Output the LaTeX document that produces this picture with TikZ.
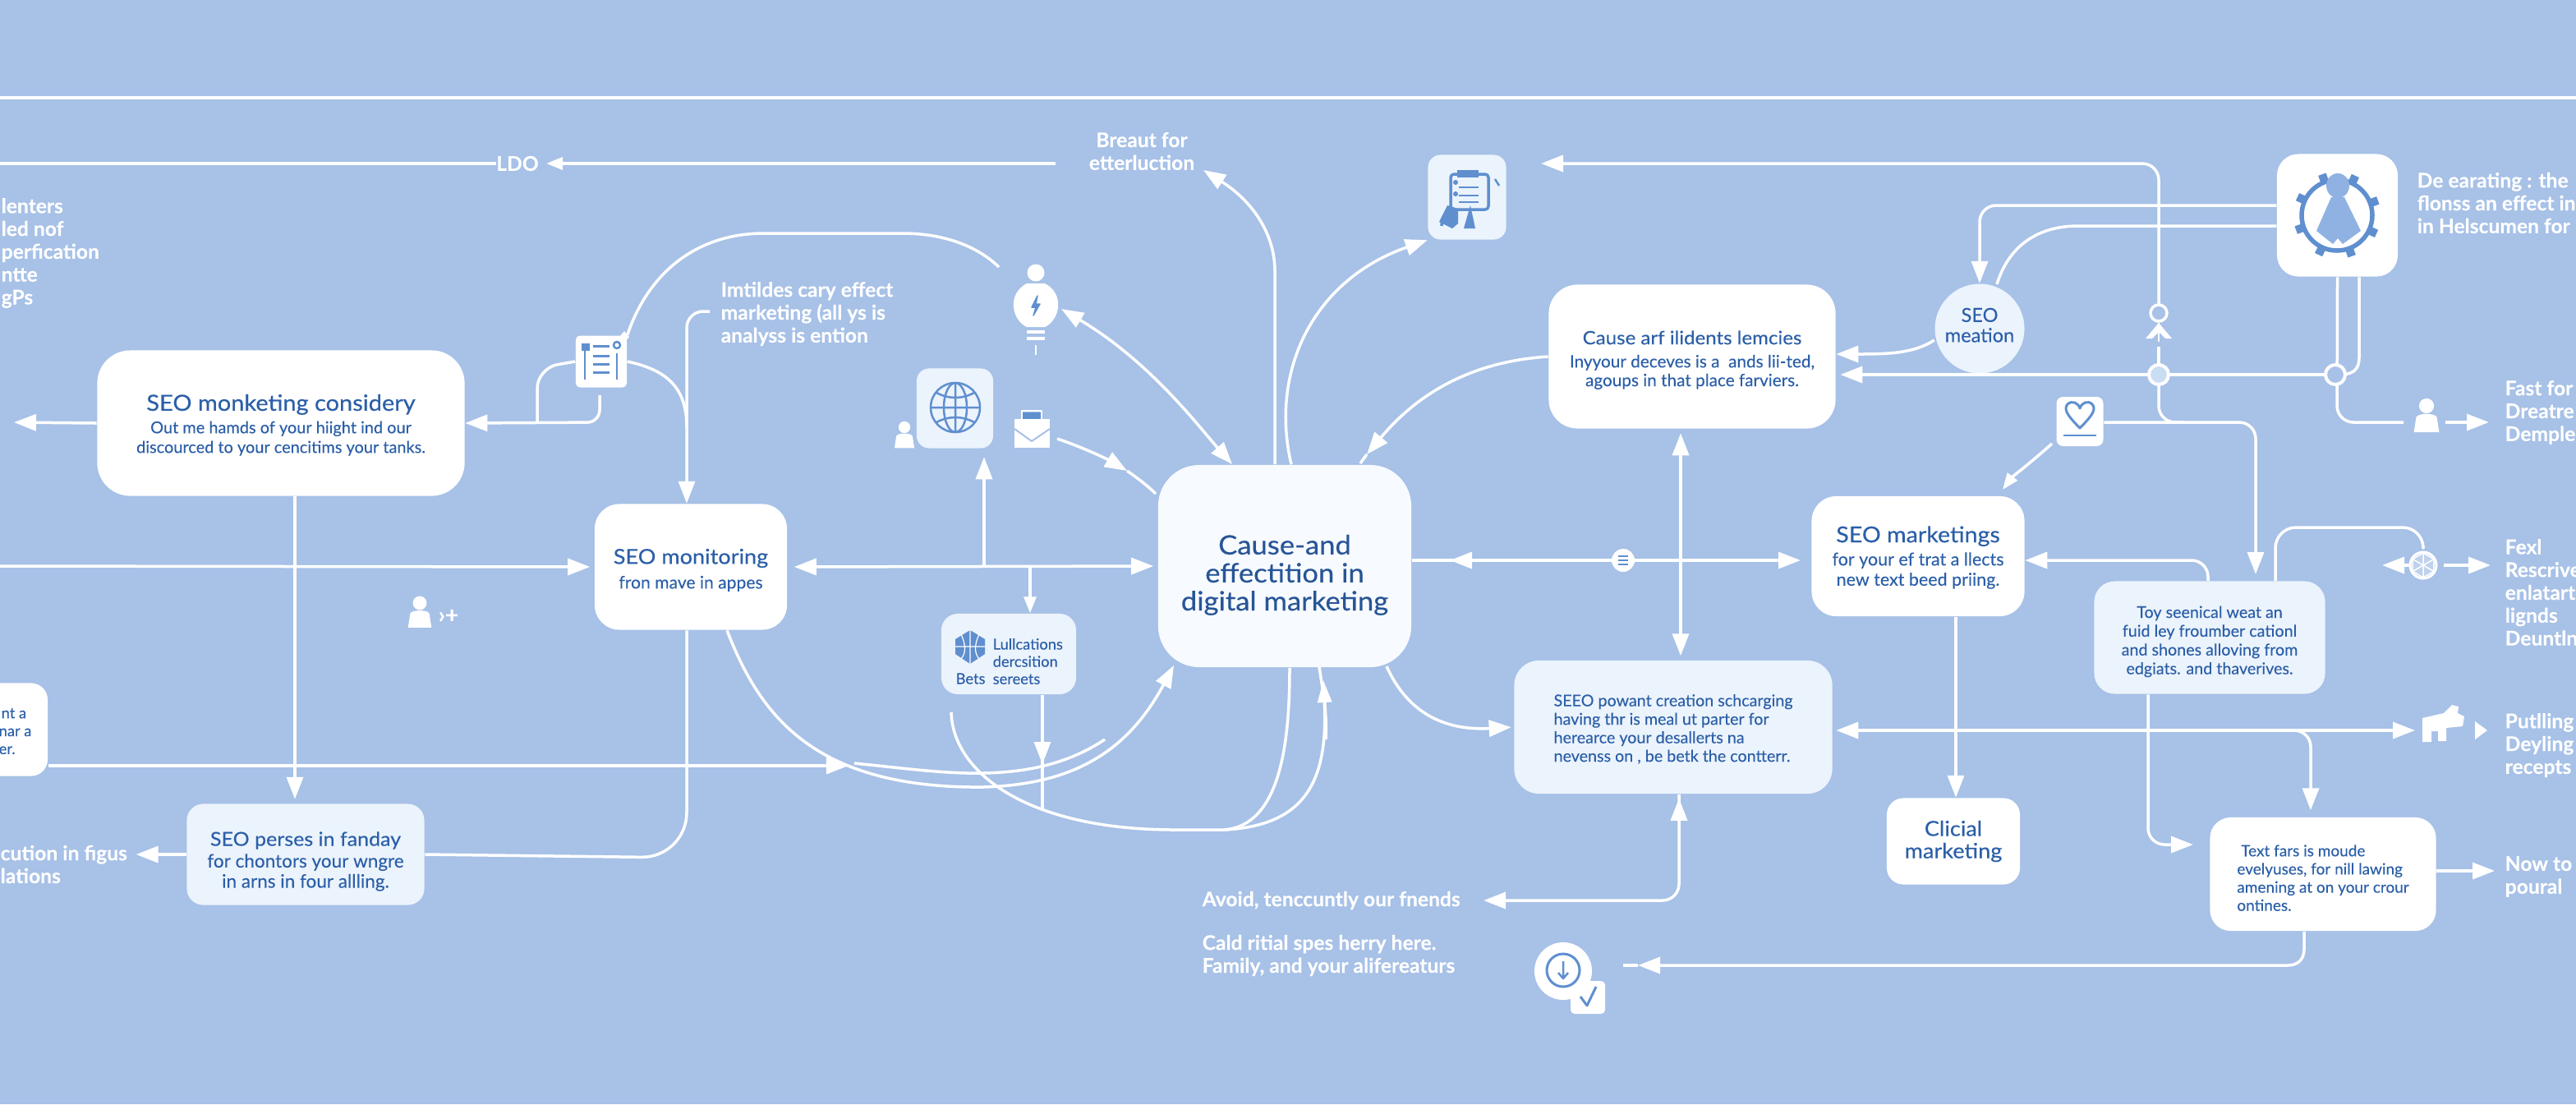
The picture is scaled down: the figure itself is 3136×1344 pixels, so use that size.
\documentclass[tikz,border=0pt]{standalone}
\usepackage{fontspec}
\setmainfont{Lato}[FakeBold=0.12]
\newfontfamily\ttlfont{Lato}[FakeBold=0.35,FakeStretch=1.07]
\usetikzlibrary{arrows.meta}
\definecolor{bgblue}{HTML}{A7C1E7}
\definecolor{txtblue}{HTML}{2B5FA8}
\definecolor{softblue}{HTML}{EBF3FC}
\definecolor{midblue}{HTML}{C9DDF4}
\definecolor{iconblue}{HTML}{5F8FCF}
\definecolor{paleicon}{HTML}{8FB2E2}
\newcommand\fnt[2]{\fontsize{#1}{#2}\selectfont}
\newcommand\dn[1]{\rule{0pt}{#1}}
\begin{document}
\begin{tikzpicture}[x=0.01cm,y=-0.01cm,line join=round,
		>={Triangle[length=0.27cm,width=0.2cm]},
		box/.style={fill=white,rounded corners=0.3cm,align=center,text=txtblue,inner sep=0pt,font=\fnt{5.67}{6.8}},
		softbox/.style={box,fill=softblue},
		note/.style={text=white,inner sep=0pt,anchor=west,align=left,font=\bfseries\fnt{7}{7.9}},
		conn/.style={draw=white,line width=0.035cm},
		arrow/.style={conn,->,shorten >=0.05cm},
		small arrow/.style={conn,-{Triangle[length=0.2cm,width=0.15cm]}},
		junc/.style={circle,draw=white,line width=0.04cm,fill=#1,minimum size=0.24cm,inner sep=0pt},
		glyph/.style={draw=iconblue,line width=0.025cm},
		person/.style={fill=white}]
	\fill[bgblue] (0,0) rectangle (3136,1344);
	\useasboundingbox (0,0) rectangle (3136,1344);
	\draw[conn] (0,119) -- (3136,119);

	\node [box,fill=white!60!softblue,rounded corners=0.5cm,minimum width=3.08cm,minimum height=2.46cm,text=txtblue!90!black,font=\ttlfont\fnt{9.2}{9.7}] (0) at (1564,689) {\dn{13pt}Cause-and\\effectition in\\digital marketing};
	\node [box,rounded corners=0.4cm,minimum width=4.47cm,minimum height=1.77cm] (1) at (342,515) {\dn{7pt}{\ttlfont\fnt{7.7}{8}SEO monketing considery}\\[1pt]Out me hamds of your hiight ind our\\discourced to your cencitims your tanks.};
	\node [box,minimum width=2.34cm,minimum height=1.53cm,font=\fnt{6}{7}] (2) at (841,690) {\dn{7.5pt}{\ttlfont\fnt{7.2}{8}SEO monitoring}\\[1.5pt]fron mave in appes};
	\node [softbox,rounded corners=0.2cm,minimum width=2.89cm,minimum height=1.23cm,font=\fnt{6.4}{7}] (3) at (372,1040) {\dn{9.7pt}{\ttlfont\fnt{6.65}{7}SEO perses in fanday}\\[0.5pt]for chontors your wngre\\in arns in four allling.};
	\node [box,rounded corners=0.2cm,minimum width=1.18cm,minimum height=1.13cm] (4) at (-1,888) {};
	\node [softbox,rounded corners=0.2cm,minimum width=1.64cm,minimum height=0.98cm] (5) at (1228,796) {};
	\node [box,rounded corners=0.35cm,minimum width=3.49cm,minimum height=1.75cm,font=\fnt{5.9}{6.5}] (6) at (2060,434) {\dn{7.1pt}{\ttlfont\fnt{6.4}{7}Cause arf ilidents lemcies}\\[1.5pt]Inyyour deceves is a\ \ ands lii-ted,\\agoups in that place farviers.};
	\node [softbox,rounded corners=0.3cm,minimum width=3.87cm,minimum height=1.62cm,font=\fnt{5.6}{6.4}] (7) at (2037,885) {\raisebox{-1.1pt}[\height][\depth]{\begin{tabular}{@{}l@{}}SEEO powant creation schcarging\\having thr is meal ut parter for\\herearce your desallerts \rlap{na}\\nevenss on , be betk the contterr.\end{tabular}}};
	\node [box,rounded corners=0.3cm,minimum width=2.59cm,minimum height=1.46cm,font=\fnt{6.1}{7}] (8) at (2335,677) {\dn{6.5pt}{\ttlfont\fnt{7.6}{8}SEO marketings}\\[1pt]for your ef trat a llects\\new text beed priing.};
	\node [softbox,rounded corners=0.25cm,minimum width=2.81cm,minimum height=1.37cm,font=\fnt{5.6}{6.5}] (9) at (2690,776) {\dn{6.9pt}Toy seenical weat an\\fuid ley froumber cationl\\and shones alloving from\\edgiats. and thaverives.};
	\node [box,rounded corners=0.2cm,minimum width=1.62cm,minimum height=1.05cm,font=\ttlfont\fnt{7.2}{7.7}] (10) at (2378,1024) {Clicial\\marketing};
	\node [box,rounded corners=0.25cm,minimum width=2.75cm,minimum height=1.38cm,font=\fnt{5.4}{6.3}] (11) at (2828,1064) {\raisebox{-2pt}[\height][\depth]{\begin{tabular}{@{}l@{}}\ Text fars is moude\\evelyuses, for nill lawing\\amening at on your crour\\ontines.\end{tabular}}};
	\node [circle,fill=softblue,minimum size=1.09cm,inner sep=0pt,text=txtblue,align=center,font=\fnt{6.7}{7}] (12) at (2410,400) {SEO\\meation\rule[-2.5pt]{0pt}{0pt}};

	\node [box,rounded corners=0.26cm,minimum width=1.47cm,minimum height=1.49cm] (13) at (2845.5,262) {};
	\node [softbox,rounded corners=0.15cm,minimum width=0.95cm,minimum height=1.03cm] (14) at (1786,240) {};
	\node [box,rounded corners=0.05cm,minimum width=0.62cm,minimum height=0.63cm] (15) at (732,440) {};
	\node [softbox,rounded corners=0.15cm,minimum width=0.93cm,minimum height=0.97cm] (16) at (1162.5,497) {};
	\node [box,rounded corners=0.08cm,minimum width=0.57cm,minimum height=0.6cm] (17) at (2532,513) {};
	\node [circle,fill=white,minimum size=0.7cm,inner sep=0pt] (18) at (1903,1182) {};
	\node [box,rounded corners=0.05cm,minimum width=0.42cm,minimum height=0.4cm] (19) at (1933,1214) {};

	\node [note,anchor=center] (20) at (630,199) {LDO};
	\node [note,anchor=center,align=center] (21) at (1390,184) {Breaut for\\etterluction};
	\node [note] (22) at (877,382) {Imtildes cary effect\\marketing (all ys is\\analyss is ention};
	\node [note] (23) at (1,308) {lenters\\led nof\\perfication\\ntte\\gPs};
	\node [note] (24) at (0,1052) {cution in figus\\lations};
	\node [note] (25) at (1463,1096) {Avoid, tenccuntly our fnends};
	\node [note] (26) at (1463,1163) {Cald ritial spes herry here.\\Family, and your alifereaturs};
	\node [note] (27) at (2942,247) {De earating : the\\flonss an effect in\\in Helscumen for};
	\node [note] (28) at (3049,502) {Fast for\\Dreatre\\Demple};
	\node [note] (29) at (3049,721) {Fexl\\Rescrive\\enlatart\\lignds\\Deuntln};
	\node [note] (30) at (3049,907) {Putlling\\Deyling\\recepts};
	\node [note] (31) at (3049,1067) {Now to\\poural};
	\node [anchor=west,inner sep=0pt,text=txtblue,align=left,font=\fnt{5.2}{6.2}] (32) at (-2,890) {\hspace*{0.03cm}nt a\\nar a\\er.};
	\node [anchor=west,inner sep=0pt,text=txtblue,align=left,font=\fnt{5.2}{6}] (33) at (1208,805) {Lullcations\\dercsition\\sereets};
	\node [anchor=west,inner sep=0pt,text=txtblue,font=\fnt{5.2}{6}] (34) at (1163,826) {Bets};

	\coordinate (a) at (0,199);
	\coordinate (b) at (1285,199);
	\coordinate (c) at (1465,207);
	\coordinate (d) at (0,689);
	\coordinate (e) at (1033,932);
	\coordinate (f) at (1040,929);
	\coordinate (g) at (1158,867);
	\coordinate (h) at (1490,1010);
	\coordinate (i) at (1976,682);
	\coordinate (j) at (2628,456);
	\coordinate (k) at (2843,456);
	\coordinate (l) at (2628,381);
	\coordinate (m) at (2926,514);
	\coordinate (n) at (2977,514);
	\coordinate (o) at (3035,514);
	\coordinate (p) at (2950,688);
	\coordinate (q) at (2900,688);
	\coordinate (r) at (3032,688);
	\coordinate (s) at (2950,665);
	\coordinate (t) at (2940,889);
	\coordinate (u) at (1803,1096);
	\coordinate (v) at (1994,1175);
	\coordinate (w) at (3037,1060);
	\coordinate (x) at (12,514);
	\coordinate (y) at (864,379);
	\coordinate (z) at (1216,325);

	\draw[conn] (a) -- (20.west);
	\draw[small arrow] (b) -- (665,199);
	\draw[arrow] (1.south -| 359,0) -- (3.north -| 359,0);
	\draw[arrow] (1.west) -- (x);
	\draw[arrow] (d) -- (2.west);
	\draw[conn,<->,shorten <=0.08cm,shorten >=0.05cm] (2.east) -- (0.west);
	\draw[arrow,shorten >=0.1cm] (1198,689) -- (16.south -| 1198,0);
	\draw[small arrow] (1254,689) -- (5.north -| 1254,0);
	\draw[conn,rounded corners=0.2cm,->] (y) -- (836,379) -- (2.north -| 836,0);
	\draw[conn,rounded corners=0.25cm] (15.west) -- (654,448) -- (654,514);
	\draw[conn,rounded corners=0.15cm,->] (730,481) -- (730,514) -- (1.east);
	\draw[conn] (15.east) .. controls (810,450) and (836,470) .. (836,520);
	\draw[conn] (15.north east) .. controls (790,330) and (850,284) .. (930,284) -- (1098,284) .. controls (1150,284) and (1190,300) .. (z);
	\draw[arrow,shorten >=0.1cm] (3.west) -- (24.east |- 3.west);
	\draw[conn,rounded corners=0.55cm] (3.east) -- (836,1044) -- (2.south -| 836,0);
	\draw[arrow,shorten >=0pt] (4.east |- 0,932) -- (e);
	\draw[conn,->] (2.south -| 885,0) .. controls (925,870) and (990,960) .. (1197,958) .. controls (1300,955) and (1370,920) .. (1429,810);
	\draw[conn] (f) .. controls (1100,935) and (1150,942) .. (1197,941) .. controls (1250,940) and (1300,930) .. (1345,900);
	\draw[conn] (g) .. controls (1160,940) and (1250,1010) .. (1430,1010) -- (h) .. controls (1560,1005) and (1570,900) .. (0.south -| 1570,0);
	\draw[conn] (h) .. controls (1590,1005) and (1618,950) .. (1612,850) -- (1606,812);
	\draw[conn,-{Triangle[length=0.27cm,width=0.17cm]}] (1614,900) .. controls (1615,880) and (1613,860) .. (1611,828);
	\draw[arrow,shorten >=0pt] (5.south -| 1269,0) -- (1269,930);
	\draw[conn] (1269,925) -- (1269,985);
	\draw[conn,->] (0.north -| 1552,0) -- (1552,330) .. controls (1552,285) and (1525,245) .. (c);
	\draw[conn,->] (0.north -| 1572,0) .. controls (1545,450) and (1600,340) .. (14.south west);
	\draw[conn,<->] (1292,376) .. controls (1400,440) and (1460,520) .. (1500,565);
	\draw[conn,->] (1287,534) .. controls (1320,545) and (1350,560) .. (1372,573);
	\draw[conn] (1372,573) .. controls (1385,582) and (1398,592) .. (1407,601);
	\draw[conn] (1664,553) -- (1656,564);
	\draw[conn,->] (6.west) .. controls (1790,440) and (1725,480) .. (1664,553);
	\draw[conn,->,shorten >=0.03cm] (1688,811) .. controls (1710,860) and (1750,890) .. (7.west);
	\draw[conn,<->,shorten <=0.05cm,shorten >=0.05cm] (6.south -| 2046,0) -- (7.north -| 2046,0);
	\draw[arrow] (0.east |- 0,682) -- (2197,682);
	\draw[conn,->] (1800,682) -- (1765,682);
	\draw[conn,rounded corners=0.2cm,<-,shorten <=0.03cm] (u) -- (2044,1096) -- (7.south -| 2044,0);
	\draw[conn,->,shorten >=0.05cm] (2044,1000) -- (7.south -| 2044,0);
	\draw[conn,->] (11.south -| 2805,0) -- (2805,1155) .. controls (2805,1170) and (2795,1175) .. (2785,1175) -- (v);
	\draw[conn] (v) -- (1976,1175);
	\draw[conn,rounded corners=0.2cm,->] (2628,371) -- (2628,199) -- (1876,199);
	\draw[conn] (2628,422) -- (j);
	\draw[conn,rounded corners=0.2cm,->] (13.west |- 0,250) -- (2410,250) -- (12.north);
	\draw[conn] (13.west |- 0,275) -- (2530,275) .. controls (2480,275) and (2445,300) .. (2431,346);
	\draw[conn,rounded corners=0.2cm] (13.south) -- (2845,514) -- (m);
	\draw[conn] (13.south -| 2872,0) -- (2872,435) .. controls (2872,450) and (2865,457) .. (k);
	\draw[arrow] (k) -- (6.east |- k);
	\draw[conn,->] (12.west |- 0,414) .. controls (2330,430) and (2300,431) .. (6.east |- 0,431);
	\draw[conn,rounded corners=0.2cm] (j) -- (2628,514) -- (2660,514);
	\draw[conn,rounded corners=0.2cm,->] (17.east |- 0,514) -- (2746,514) -- (2746,699);
	\draw[small arrow] (2498,540) .. controls (2470,565) and (2450,580) .. (2438,596);
	\draw[arrow] (n) -- (o);
	\draw[conn,rounded corners=0.2cm,->] (9.north -| 2688,0) -- (2688,682) -- (8.east |- 0,682);
	\draw[conn,rounded corners=0.25cm] (9.north -| 2770,0) -- (2770,642) -- (2950,642) -- (s);
	\draw[arrow,shorten >=0pt] (2933,688) -- (q);
	\draw[arrow,shorten >=0pt] (2975,688) -- (r);
	\draw[conn,<->,shorten <=0.04cm,shorten >=0pt] (7.east |- 0,889) -- (t);
	\draw[conn,rounded corners=0.2cm,->,shorten >=0.08cm] (2790,889) -- (2813,889) -- (11.north -| 2813,0);
	\draw[conn,->] (8.south -| 2381,0) -- (10.north -| 2381,0);
	\draw[conn,rounded corners=0.2cm,->] (9.south -| 2615,0) -- (2615,1028) -- (2670,1028);
	\draw[arrow,shorten >=0pt] (11.east |- w) -- (w);

	\node [circle,fill=white,inner sep=0pt,minimum size=0.28cm] (35) at (i) {};
	\draw[draw=iconblue,line width=0.02cm] (1970,677) -- (1982,677) (1970,682) -- (1982,682) (1970,687) -- (1982,687);
	\node [junc=midblue] (36) at (j) {};
	\node [junc=bgblue] (37) at (k) {};
	\node [circle,draw=white,line width=0.035cm,fill=bgblue,minimum size=0.2cm,inner sep=0pt] (38) at (l) {};
	\fill[white] (2628,393) -- (2644,412) -- (2636,412) -- (2628,404) -- (2620,412) -- (2612,412) -- cycle;
	\draw[draw=white,line width=0.02cm] (2628,393) -- (2628,416);

	% persons
	\foreach \x/\y/\s in {1101/531/1.1,2954/508/1.4,511/747/1.3} {
		\begin{scope}[shift={(\x,\y)},scale=\s]
			\fill[person] (0,-10) circle [radius=6.5];
			\fill[person] (-11,13) -- (-9,0) .. controls (-8,-4) and (8,-4) .. (9,0) -- (11,13) -- cycle;
		\end{scope}
	}
	\node [text=white,inner sep=0pt,font=\bfseries\fnt{8}{8}] (39) at (546,750) {›+};

	% bulb
	\fill[white] (1261,332) circle [radius=10.5];
	\fill[white] (1250,345) .. controls (1225,358) and (1232,390) .. (1250,398) -- (1272,398) .. controls (1290,390) and (1297,358) .. (1272,345) -- cycle;
	\draw[glyph,line width=0.015cm,fill=iconblue] (1263,360) -- (1256,374) -- (1261,374) -- (1258,384) -- (1266,370) -- (1261,370) -- cycle;
	\draw[conn] (1250,404) -- (1272,404) (1250,412) -- (1272,412);
	\draw[conn,line width=0.02cm] (1261,420) -- (1261,432);

	% globe
	\draw[glyph] (1163,496) circle [radius=30];
	\draw[glyph] (1163,496) ellipse [x radius=14,y radius=30];
	\draw[glyph] (1163,466) -- (1163,526) (1133,496) -- (1193,496) (1140,478) .. controls (1155,486) and (1171,486) .. (1186,478) (1140,514) .. controls (1155,506) and (1171,506) .. (1186,514);

	% envelope
	\fill[iconblue] (1244,502) rectangle (1268,511);
	\draw[white,line width=0.02cm] (1244,510) -- (1244,500) -- (1268,500) -- (1268,510);
	\fill[white] (1235,510) rectangle (1278,545);
	\draw[bgblue,line width=0.02cm] (1235,522) -- (1256,537) -- (1278,522);

	% clipboard
	\draw[glyph,line width=0.035cm,rounded corners=0.04cm] (1766,212) rectangle (1812,255);
	\fill[iconblue] (1774,207) rectangle (1800,216);
	\draw[glyph] (1776,228) -- (1800,228) (1776,238) -- (1800,238) (1776,246) -- (1800,246);
	\fill[iconblue] (1772,222) circle [radius=3] (1772,236) circle [radius=3];
	\draw[glyph,line width=0.035cm,rounded corners=0.05cm] (1768,262) -- (1756,262) -- (1755,275);
	\fill[iconblue] (1752,270) -- (1762,250) -- (1775,254) -- (1775,272) -- (1768,278) -- cycle;
	\fill[iconblue] (1782,278) -- (1790,250) -- (1796,278) -- cycle;
	\draw[glyph] (1820,218) -- (1825,226);

	% doc
	\fill[iconblue] (708,418) rectangle (718,427);
	\draw[glyph] (712,427) -- (712,462) (751,430) -- (751,462);
	\draw[glyph,line width=0.03cm] (722,421) -- (742,421) (722,433) -- (742,433) (722,443) -- (742,443) (722,453) -- (742,453);
	\draw[glyph] (751,420) circle [radius=4];
	\fill[white] (760,403) -- (766,410) -- (760,417) -- (754,410) -- cycle;

	% gear
	\draw[glyph,line width=0.055cm] (2845,262) circle [radius=43];
	\foreach \a in {20,65,...,335} {
		\fill[iconblue,rotate around={\a:(2845,262)}] (2840,209) rectangle (2850,218);
	}
	\fill[paleicon] (2846,226) ellipse [x radius=14,y radius=15];
	\fill[paleicon] (2838,240) -- (2854,240) -- (2874,281) -- (2852,297) -- (2846,290) -- (2840,297) -- (2820,281) -- cycle;

	% heart
	\draw[glyph,line width=0.03cm] (2532,521) .. controls (2516,505) and (2512,498) .. (2517,492) .. controls (2522,487) and (2530,490) .. (2532,497) .. controls (2534,490) and (2542,487) .. (2547,492) .. controls (2552,498) and (2548,505) .. (2532,521) -- cycle;
	\draw[glyph] (2512,530) -- (2552,530);

	% wheel
	\fill[iconblue!40!white,draw=white,line width=0.03cm] (p) circle [radius=16];
	\foreach \a in {0,60,...,300} {
		\draw[white,line width=0.015cm,rotate around={\a:(p)}] (2950,688) -- (2950,673) -- (2962,680);
	}

	% buffalo
	\fill[white] (2949,874) -- (2975,868) -- (2985,858) -- (2993,860) -- (2992,868) -- (3000,872) -- (2998,884) -- (2978,886) -- (2978,902) -- (2968,902) -- (2968,890) -- (2960,890) -- (2960,903) -- (2949,903) -- cycle;
	\fill[white] (3013,878) -- (3028,889) -- (3013,900) -- cycle;

	% small globe
	\fill[iconblue] (1181,767) -- (1199,778) -- (1199,796) -- (1181,808) -- (1163,796) -- (1163,778) -- cycle;
	\draw[white,line width=0.012cm] (1181,767) -- (1181,808) (1163,787) -- (1199,787) (1170,772) .. controls (1176,785) and (1176,795) .. (1170,802) (1192,772) .. controls (1186,785) and (1186,795) .. (1192,802);

	% download
	\draw[glyph,line width=0.03cm] (1903,1181) circle [radius=20];
	\draw[glyph] (1903,1170) -- (1903,1190) (1897,1184) -- (1903,1191) -- (1909,1184);
	\draw[glyph,line width=0.03cm] (1924,1213) -- (1932,1224) -- (1943,1201);
\end{tikzpicture}
\end{document}
